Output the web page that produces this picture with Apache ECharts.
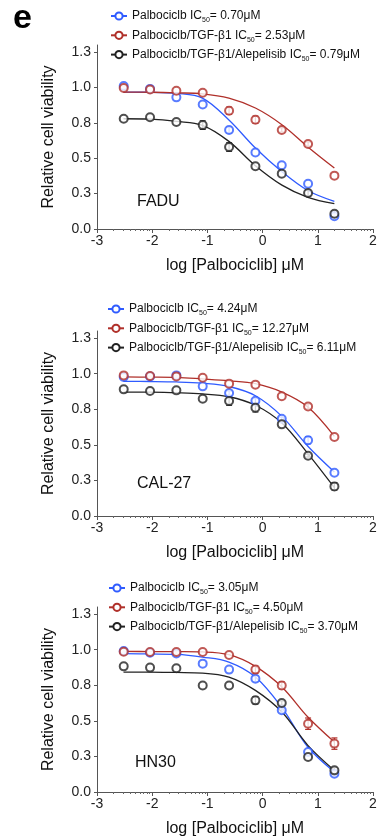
<!DOCTYPE html>
<html><head><meta charset="utf-8">
<script src="https://cdn.jsdelivr.net/npm/echarts@6/dist/echarts.min.js"></script>
<style>html,body{margin:0;padding:0;background:#fff}#c{width:382px;height:840px}</style>
</head><body><div id="c"></div>
<script>
// ---------- data ----------
const logConc = [-2.516, -2.039, -1.562, -1.085, -0.607, -0.130, 0.347, 0.824, 1.301];
const curveX  = [-2.52, -2.04, -1.56, -1.09, -0.61, -0.13, 0.35, 0.82, 1.30];
const treatments = ['Palbociclb', 'Palbociclb/TGF-β1', 'Palbociclb/TGF-β1/Alepelisib'];
const cellLines = ['FADU', 'CAL-27', 'HN30'];
const ic50Labels = [['0.70', '2.53', '0.79'], ['4.24', '12.27', '6.11'], ['3.05', '4.50', '3.70']];

const yTickValues = [0, 0.25, 0.5, 0.75, 1.0, 1.25];
const yTickLabels = ['0.0', '0.3', '0.5', '0.8', '1.0', '1.3'];
const xTickValues = [-3, -2, -1, 0, 1, 2];
const xTickLabels = ['-3', '-2', '-1', '0', '1', '2'];
const minorDecades = [-3, -2, -1, 0, 1];
const minorMultiples = [2, 3, 4, 5, 6, 7, 8, 9];

// FADU  (order: Palbociclb, +TGF-β1, +TGF-β1/Alepelisib)
const faduMean = [
  [1.01, 0.99, 0.93, 0.88, 0.70, 0.54, 0.45, 0.32, 0.09],
  [0.996, 0.985, 0.977, 0.963, 0.836, 0.772, 0.70, 0.60, 0.377],
  [0.779, 0.789, 0.756, 0.734, 0.579, 0.443, 0.391, 0.254, 0.108]
];
const faduErr = [
  [0.015, 0, 0, 0, 0.02, 0, 0, 0, 0.01],
  [0.01, 0, 0, 0, 0.025, 0.025, 0.015, 0.015, 0],
  [0, 0, 0, 0.03, 0.03, 0, 0, 0.02, 0.02]
];
const faduFit = [
  [0.967, 0.966, 0.958, 0.925, 0.77, 0.572, 0.405, 0.272, 0.195],
  [0.967, 0.966, 0.962, 0.955, 0.925, 0.855, 0.737, 0.58, 0.431],
  [0.779, 0.776, 0.76, 0.732, 0.619, 0.447, 0.31, 0.224, 0.179]
];
// CAL-27
const cal27Mean = [
  [0.977, 0.981, 0.988, 0.911, 0.864, 0.81, 0.684, 0.532, 0.304],
  [0.988, 0.984, 0.981, 0.972, 0.93, 0.923, 0.841, 0.77, 0.555],
  [0.89, 0.878, 0.883, 0.824, 0.808, 0.761, 0.644, 0.424, 0.208]
];
const cal27Err = [
  [0, 0, 0.012, 0, 0.015, 0.015, 0.01, 0.025, 0],
  [0.01, 0.005, 0.005, 0, 0, 0, 0, 0.015, 0],
  [0, 0, 0, 0, 0.03, 0.03, 0, 0.01, 0.025]
];
const cal27Fit = [
  [0.946, 0.945, 0.942, 0.933, 0.91, 0.845, 0.70, 0.49, 0.309],
  [0.977, 0.976, 0.974, 0.963, 0.95, 0.93, 0.871, 0.766, 0.56],
  [0.871, 0.870, 0.866, 0.858, 0.838, 0.778, 0.653, 0.438, 0.199]
];
// HN30
const hn30Mean = [
  [0.991, 0.979, 0.974, 0.902, 0.86, 0.796, 0.574, 0.281, 0.129],
  [0.986, 0.984, 0.984, 0.984, 0.963, 0.86, 0.749, 0.48, 0.34],
  [0.883, 0.874, 0.869, 0.749, 0.749, 0.644, 0.625, 0.246, 0.152]
];
const hn30Err = [
  [0.01, 0, 0, 0, 0, 0.02, 0.015, 0, 0.015],
  [0, 0, 0.01, 0, 0, 0.025, 0.025, 0.04, 0.04],
  [0, 0, 0, 0, 0, 0.025, 0.015, 0, 0.02]
];
const hn30Fit = [
  [0.972, 0.970, 0.967, 0.948, 0.913, 0.808, 0.593, 0.316, 0.141],
  [0.988, 0.987, 0.986, 0.984, 0.965, 0.883, 0.738, 0.527, 0.351],
  [0.843, 0.842, 0.840, 0.836, 0.808, 0.714, 0.562, 0.328, 0.152]
];

// ---------- styling / layout ----------
const FONT = 'Liberation Sans, Arial, sans-serif';
const colors = ['#2f5bff', '#b0302a', '#222222'];
const gridTops = [45, 331, 607];
const gridHeights = [184, 185, 185];
const legendLeft = [110, 107, 108];
const legendTop = [10, 303, 582];
const labelPos = [[137, 194], [137, 476], [135, 755]];

const panelMean = [faduMean, cal27Mean, hn30Mean];
const panelErr = [faduErr, cal27Err, hn30Err];
const panelFit = [faduFit, cal27Fit, hn30Fit];

const minorTicks = [];
minorDecades.forEach(d => minorMultiples.forEach(k => minorTicks.push(d + Math.log10(k))));

const grid = [], xAxis = [], yAxis = [], series = [], legend = [], graphic = [];

cellLines.forEach((cl, p) => {
  grid.push({left: 97, width: 276, top: gridTops[p], height: gridHeights[p]});
  xAxis.push({
    type: 'value', gridIndex: p, min: -3, max: 2, interval: 1, position: 'bottom',
    axisLine: {onZero: false, lineStyle: {color: '#555', width: 1}},
    axisTick: {show: true, length: 4, lineStyle: {color: '#555'}},
    axisLabel: {fontSize: 14, color: '#222', margin: 5, fontFamily: FONT,
      formatter: v => { const i = xTickValues.indexOf(v); return i >= 0 ? xTickLabels[i] : ''; }},
    splitLine: {show: false},
    name: 'log [Palbociclib] μM', nameLocation: 'middle', nameGap: 29,
    nameTextStyle: {fontSize: 16, color: '#111', fontFamily: FONT}
  });
  xAxis.push({
    type: 'value', gridIndex: p, min: -3, max: 2, position: 'bottom',
    axisLine: {show: false, onZero: false},
    axisTick: {show: true, length: 2, customValues: minorTicks, lineStyle: {color: '#666'}},
    axisLabel: {show: false}, splitLine: {show: false}
  });
  yAxis.push({
    type: 'value', gridIndex: p, min: 0, max: 1.3,
    axisLine: {show: true, onZero: false, lineStyle: {color: '#555', width: 1}},
    axisTick: {show: true, length: 3, customValues: yTickValues, lineStyle: {color: '#555'}},
    axisLabel: {fontSize: 14, color: '#222', margin: 6, fontFamily: FONT, customValues: yTickValues,
      formatter: v => { const i = yTickValues.indexOf(v); return i >= 0 ? yTickLabels[i] : ''; }},
    splitLine: {show: false},
    name: 'Relative cell viability', nameLocation: 'middle', nameGap: 40,
    nameTextStyle: {fontSize: 16, color: '#111', fontFamily: FONT}
  });
  legend.push({
    data: treatments, orient: 'vertical', left: legendLeft[p], top: legendTop[p],
    itemWidth: 16, itemHeight: 9, itemGap: 5.3, selectedMode: false, padding: 0,
    formatter: name => '{t|' + name + ' IC}{s|50}{t|= ' + ic50Labels[p][treatments.indexOf(name)] + 'μM}',
    textStyle: {fontFamily: FONT, rich: {
      t: {fontSize: 12, lineHeight: 16, color: '#111', fontFamily: FONT},
      s: {fontSize: 7, lineHeight: 8, verticalAlign: 'bottom', color: '#111', fontFamily: FONT}
    }}
  });
  graphic.push({type: 'text', left: labelPos[p][0], top: labelPos[p][1],
    style: {text: cl, font: '16px ' + FONT, fill: '#111'}});

  treatments.forEach((t, d) => {
    const c = colors[d];
    series.push({
      name: t, type: 'line', xAxisIndex: 2 * p, yAxisIndex: p, smooth: 0.35,
      symbol: 'emptyCircle', showSymbol: false, z: 2, silent: true,
      lineStyle: {color: c, width: 1.3}, itemStyle: {color: c},
      data: curveX.map((x, i) => [x, panelFit[p][d][i]])
    });
  });
  treatments.forEach((t, d) => {
    const c = colors[d];
    series.push({
      name: t + ' points', type: 'custom', xAxisIndex: 2 * p, yAxisIndex: p, z: 3, silent: true,
      data: logConc.map((x, i) => [x, panelMean[p][d][i], panelErr[p][d][i]]),
      encode: {x: 0, y: 1},
      renderItem: (params, api) => {
        const x = api.value(0), y = api.value(1), e = api.value(2);
        if (!e) return null;
        const a = api.coord([x, y + e]), b = api.coord([x, y - e]);
        const w = 3, st = {stroke: c, lineWidth: 1.2};
        return {type: 'group', children: [
          {type: 'line', shape: {x1: a[0], y1: a[1], x2: b[0], y2: b[1]}, style: st},
          {type: 'line', shape: {x1: a[0] - w, y1: a[1], x2: a[0] + w, y2: a[1]}, style: st},
          {type: 'line', shape: {x1: b[0] - w, y1: b[1], x2: b[0] + w, y2: b[1]}, style: st}
        ]};
      }
    });
    series.push({
      name: t + ' mean', type: 'scatter', xAxisIndex: 2 * p, yAxisIndex: p, z: 4, silent: true,
      symbol: 'emptyCircle', symbolSize: 8,
      itemStyle: {color: c, borderColor: c, borderWidth: 1.4},
      data: logConc.map((x, i) => [x, panelMean[p][d][i]])
    });
  });
});

graphic.push({type: 'text', left: 13, top: 2, style: {text: 'e', font: 'bold 34px ' + FONT, fill: '#000'}});

const chart = echarts.init(document.getElementById('c'), null, {renderer: 'canvas'});
chart.setOption({
  animation: false, backgroundColor: '#fff',
  textStyle: {fontFamily: FONT},
  grid, xAxis, yAxis, legend, series, graphic
});
</script></body></html>
